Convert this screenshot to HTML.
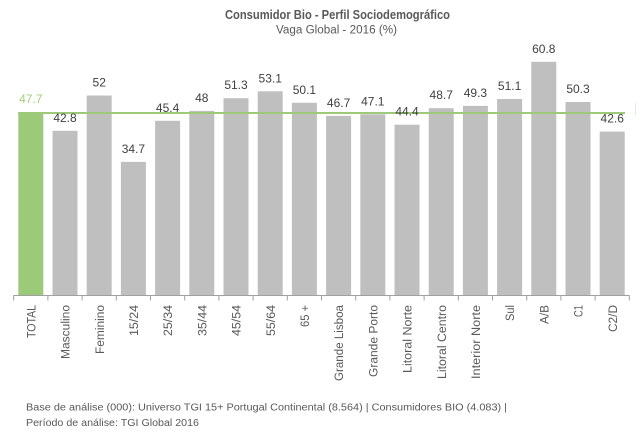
<!DOCTYPE html>
<html>
<head>
<meta charset="utf-8">
<style>
html,body{margin:0;padding:0;background:#ffffff;}
svg{display:block;}
text{font-family:"Liberation Sans",Arial,sans-serif;}
</style>
</head>
<body>
<svg width="640" height="436" viewBox="0 0 640 436" xmlns="http://www.w3.org/2000/svg">
<rect width="640" height="436" fill="#ffffff"/>
<!-- Title -->
<text x="225" y="19" font-size="12.5" font-weight="bold" fill="#595959" textLength="225" lengthAdjust="spacingAndGlyphs">Consumidor Bio - Perfil Sociodemográfico</text>
<text x="276" y="33.3" font-size="11.5" fill="#595959" textLength="121" lengthAdjust="spacingAndGlyphs">Vaga Global - 2016 (%)</text>

<!-- Bars -->
<g fill="#bfbfbf">
<rect x="18.3" y="112.0" width="25" height="183.0" fill="#9dca78"/>
<rect x="52.5" y="130.8" width="25" height="164.2"/>
<rect x="86.7" y="95.5" width="25" height="199.5"/>
<rect x="120.9" y="161.9" width="25" height="133.1"/>
<rect x="155.1" y="120.8" width="25" height="174.2"/>
<rect x="189.3" y="110.9" width="25" height="184.1"/>
<rect x="223.5" y="98.2" width="25" height="196.8"/>
<rect x="257.7" y="91.3" width="25" height="203.7"/>
<rect x="291.9" y="102.8" width="25" height="192.2"/>
<rect x="326.1" y="115.9" width="25" height="179.1"/>
<rect x="360.3" y="114.3" width="25" height="180.7"/>
<rect x="394.5" y="124.7" width="25" height="170.3"/>
<rect x="428.7" y="108.2" width="25" height="186.8"/>
<rect x="462.9" y="105.9" width="25" height="189.1"/>
<rect x="497.1" y="99.0" width="25" height="196.0"/>
<rect x="531.3" y="61.8" width="25" height="233.2"/>
<rect x="565.5" y="102.0" width="25" height="193.0"/>
<rect x="599.7" y="131.6" width="25" height="163.4"/>
</g>

<!-- Average line -->
<rect x="18" y="112" width="607" height="2" fill="#9dca78"/>
<rect x="635" y="103" width="1" height="12" fill="#e8e8e8"/>

<!-- Data labels -->
<g font-size="12" fill="#404040" text-anchor="middle">
<text x="30.8" y="103" fill="#a3cf7f">47.7</text>
<text x="65.0" y="121.8">42.8</text>
<text x="99.2" y="86.5">52</text>
<text x="133.4" y="152.9">34.7</text>
<text x="167.6" y="111.8">45.4</text>
<text x="201.8" y="101.9">48</text>
<text x="236.0" y="89.2">51.3</text>
<text x="270.2" y="82.3">53.1</text>
<text x="304.4" y="93.8">50.1</text>
<text x="338.6" y="106.9">46.7</text>
<text x="372.8" y="105.3">47.1</text>
<text x="407.0" y="115.7">44.4</text>
<text x="441.2" y="99.2">48.7</text>
<text x="475.4" y="96.9">49.3</text>
<text x="509.6" y="90.0">51.1</text>
<text x="543.8" y="52.8">60.8</text>
<text x="578.0" y="93.0">50.3</text>
<text x="612.2" y="122.6">42.6</text>
</g>

<!-- Axis -->
<line x1="13.7" y1="295.5" x2="629.3" y2="295.5" stroke="#a0a0a0" stroke-width="1"/>
<g stroke="#a0a0a0" stroke-width="1">
<line x1="13.7" y1="295" x2="13.7" y2="300.5"/>
<line x1="47.9" y1="295" x2="47.9" y2="300.5"/>
<line x1="82.1" y1="295" x2="82.1" y2="300.5"/>
<line x1="116.3" y1="295" x2="116.3" y2="300.5"/>
<line x1="150.5" y1="295" x2="150.5" y2="300.5"/>
<line x1="184.7" y1="295" x2="184.7" y2="300.5"/>
<line x1="218.9" y1="295" x2="218.9" y2="300.5"/>
<line x1="253.1" y1="295" x2="253.1" y2="300.5"/>
<line x1="287.3" y1="295" x2="287.3" y2="300.5"/>
<line x1="321.5" y1="295" x2="321.5" y2="300.5"/>
<line x1="355.7" y1="295" x2="355.7" y2="300.5"/>
<line x1="389.9" y1="295" x2="389.9" y2="300.5"/>
<line x1="424.1" y1="295" x2="424.1" y2="300.5"/>
<line x1="458.3" y1="295" x2="458.3" y2="300.5"/>
<line x1="492.5" y1="295" x2="492.5" y2="300.5"/>
<line x1="526.7" y1="295" x2="526.7" y2="300.5"/>
<line x1="560.9" y1="295" x2="560.9" y2="300.5"/>
<line x1="595.1" y1="295" x2="595.1" y2="300.5"/>
<line x1="629.3" y1="295" x2="629.3" y2="300.5"/>
</g>

<!-- Category labels -->
<g font-size="11.5" fill="#595959" text-anchor="end">
<text transform="translate(35.3,305) rotate(-90)" textLength="33" lengthAdjust="spacingAndGlyphs">TOTAL</text>
<text transform="translate(69.6,305) rotate(-90)" textLength="54" lengthAdjust="spacingAndGlyphs">Masculino</text>
<text transform="translate(103.8,305) rotate(-90)" textLength="49" lengthAdjust="spacingAndGlyphs">Feminino</text>
<text transform="translate(138.0,305) rotate(-90)" textLength="31" lengthAdjust="spacingAndGlyphs">15/24</text>
<text transform="translate(172.2,305) rotate(-90)" textLength="31" lengthAdjust="spacingAndGlyphs">25/34</text>
<text transform="translate(206.4,305) rotate(-90)" textLength="31" lengthAdjust="spacingAndGlyphs">35/44</text>
<text transform="translate(240.6,305) rotate(-90)" textLength="31" lengthAdjust="spacingAndGlyphs">45/54</text>
<text transform="translate(274.8,305) rotate(-90)" textLength="31" lengthAdjust="spacingAndGlyphs">55/64</text>
<text transform="translate(309.0,305) rotate(-90)" textLength="22" lengthAdjust="spacingAndGlyphs">65 +</text>
<text transform="translate(343.2,305) rotate(-90)" textLength="76" lengthAdjust="spacingAndGlyphs">Grande Lisboa</text>
<text transform="translate(377.4,305) rotate(-90)" textLength="72" lengthAdjust="spacingAndGlyphs">Grande Porto</text>
<text transform="translate(411.6,305) rotate(-90)" textLength="68" lengthAdjust="spacingAndGlyphs">Litoral Norte</text>
<text transform="translate(445.8,305) rotate(-90)" textLength="74" lengthAdjust="spacingAndGlyphs">Litoral Centro</text>
<text transform="translate(480.0,305) rotate(-90)" textLength="74" lengthAdjust="spacingAndGlyphs">Interior Norte</text>
<text transform="translate(514.2,305) rotate(-90)" textLength="16" lengthAdjust="spacingAndGlyphs">Sul</text>
<text transform="translate(548.4,305) rotate(-90)" textLength="19" lengthAdjust="spacingAndGlyphs">A/B</text>
<text transform="translate(582.6,305) rotate(-90)" textLength="12" lengthAdjust="spacingAndGlyphs">C1</text>
<text transform="translate(616.8,305) rotate(-90)" textLength="27" lengthAdjust="spacingAndGlyphs">C2/D</text>
</g>

<!-- Footer -->
<text x="26" y="410.7" font-size="10" fill="#595959" textLength="481" lengthAdjust="spacingAndGlyphs">Base de análise (000): Universo  TGI 15+ Portugal Continental (8.564) | Consumidores BIO (4.083) |</text>
<text x="26" y="426" font-size="10" fill="#595959" textLength="173" lengthAdjust="spacingAndGlyphs">Período de análise: TGI Global 2016</text>
</svg>
</body>
</html>
